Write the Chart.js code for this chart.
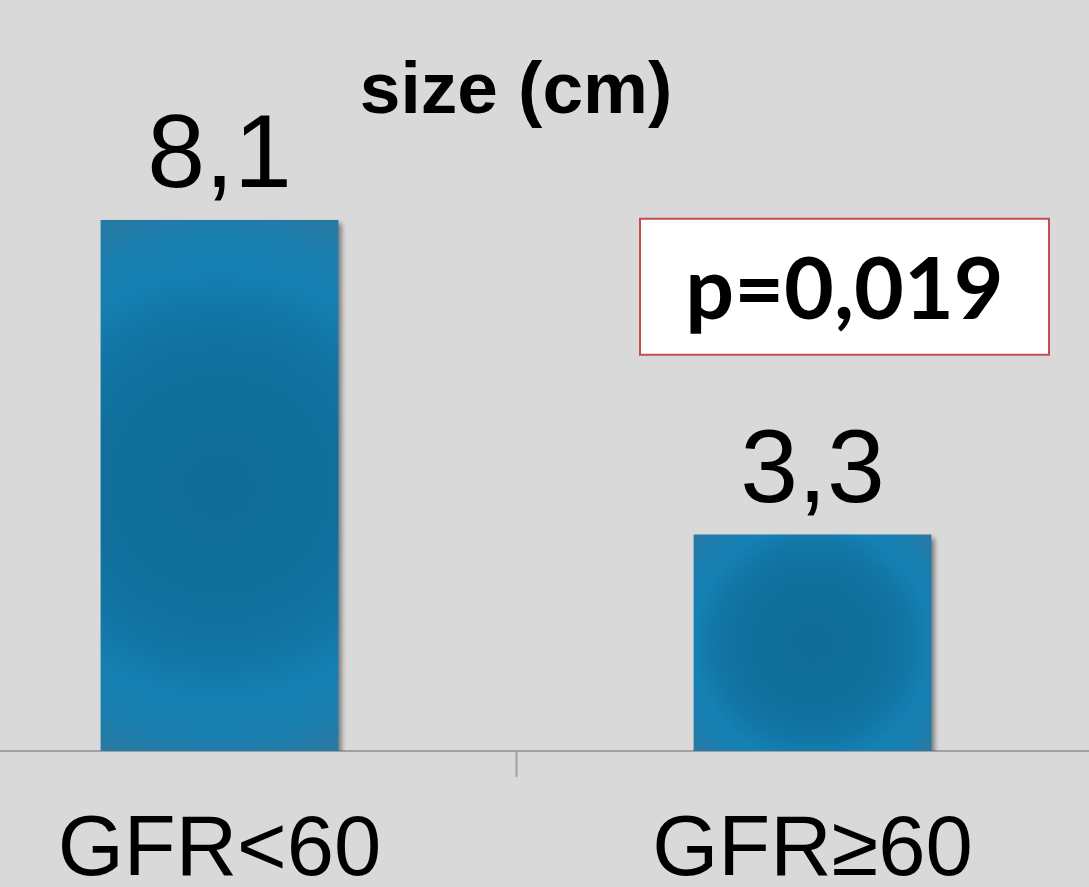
<!DOCTYPE html>
<html>
<head>
<meta charset="utf-8">
<script src="https://cdn.jsdelivr.net/npm/chart.js@4.4.1/dist/chart.umd.min.js"></script>
<style>
  html, body { margin: 0; padding: 0; background: #d9d9d9; overflow: hidden; width: 1089px; height: 887px; }
  #wrap { position: absolute; left: -77px; top: 0; width: 1186px; height: 887px; }
</style>
</head>
<body>
<div id="wrap"><canvas id="c"></canvas></div>
<script>
// ---- data ----
const categories = ['GFR<60', 'GFR\u226560'];
const sizeValues = [8.1, 3.3];
const valueLabels = ['8,1', '3,3'];
const titleText = 'size (cm)';
const pValueText = 'p=0,019';
const pBoxValue = 7.08;   // y value at the centre of the p-value box
const yMax = 9.37;

const BAR_FRAC = 0.401;

function barGradient(context) {
  const chart = context.chart;
  const fallback = '#1580b3';
  if (!chart.chartArea || context.type !== 'data') return fallback;
  const xs = chart.scales.x, ys = chart.scales.y;
  const v = context.raw;
  const cx = xs.getPixelForValue(context.dataIndex);
  const catW = (chart.chartArea.right - chart.chartArea.left) / categories.length;
  const w = catW * BAR_FRAC;
  const top = ys.getPixelForValue(v);
  const base = ys.getPixelForValue(0);
  const cy = (top + base) / 2;
  const r = Math.sqrt((w / 2) * (w / 2) + ((base - top) / 2) * ((base - top) / 2));
  const g = chart.ctx.createRadialGradient(cx, cy, 0, cx, cy, r);
  g.addColorStop(0, '#0f6c99');
  g.addColorStop(0.42, '#106f9c');
  g.addColorStop(0.6, '#1276a6');
  g.addColorStop(0.74, '#1580b3');
  g.addColorStop(0.86, '#1a7fb0');
  g.addColorStop(1.0, '#2a79a0');
  return g;
}

const shadowPlugin = {
  id: 'barShadow',
  beforeDatasetsDraw(chart) {
    const ctx = chart.ctx;
    ctx.save();
    ctx.shadowColor = 'rgba(0,0,0,0.45)';
    ctx.shadowOffsetX = 4;
    ctx.shadowOffsetY = 3;
    ctx.shadowBlur = 5;
  },
  afterDatasetsDraw(chart) {
    chart.ctx.restore();
  }
};

const labelPlugin = {
  id: 'valueLabels',
  afterDatasetsDraw(chart) {
    const ctx = chart.ctx;
    const meta = chart.getDatasetMeta(0);
    ctx.save();
    ctx.fillStyle = '#000';
    ctx.font = '104px "Liberation Sans", Arial, sans-serif';
    ctx.textAlign = 'center';
    ctx.textBaseline = 'alphabetic';
    meta.data.forEach((el, i) => {
      ctx.fillText(valueLabels[i], el.x, el.y - 33);
    });
    ctx.restore();
  }
};

const pBoxPlugin = {
  id: 'pBox',
  afterDraw(chart) {
    const ctx = chart.ctx;
    const xs = chart.scales.x, ys = chart.scales.y;
    const cx = xs.getPixelForValue(1) + 32;
    const cy = ys.getPixelForValue(pBoxValue);
    const w = 409, h = 136;
    ctx.save();
    ctx.fillStyle = '#ffffff';
    ctx.fillRect(cx - w / 2, cy - h / 2, w, h);
    ctx.strokeStyle = '#c0504d';
    ctx.lineWidth = 2;
    ctx.strokeRect(cx - w / 2, cy - h / 2, w, h);
    ctx.fillStyle = '#000';
    ctx.font = 'bold 86px Lato, "Open Sans", sans-serif';
    ctx.textAlign = 'center';
    ctx.textBaseline = 'alphabetic';
    ctx.fillText(pValueText, cx, cy + 32);
    ctx.restore();
  }
};

new Chart(document.getElementById('c'), {
  type: 'bar',
  data: {
    labels: categories,
    datasets: [{
      data: sizeValues,
      backgroundColor: barGradient,
      hoverBackgroundColor: barGradient,
      borderWidth: 0,
      barPercentage: BAR_FRAC,
      categoryPercentage: 1.0
    }]
  },
  options: {
    responsive: true,
    maintainAspectRatio: false,
    animation: false,
    events: [],
    layout: { padding: 0 },
    plugins: {
      legend: { display: false },
      tooltip: { enabled: false },
      title: {
        display: true,
        text: titleText,
        color: '#000',
        font: { family: '"Liberation Sans", Arial, sans-serif', size: 73, weight: 'bold', lineHeight: 1.2 },
        padding: { top: 49, bottom: 0 }
      }
    },
    scales: {
      x: {
        offset: true,
        afterFit(scale) { scale.height = 136; },
        grid: {
          display: true,
          offset: true,
          drawOnChartArea: false,
          drawTicks: true,
          tickLength: 26,
          tickWidth: 2,
          tickColor: '#a0a0a0'
        },
        border: { display: true, color: '#a0a0a0', width: 2 },
        ticks: {
          color: '#000',
          padding: 24,
          autoSkip: false,
          maxRotation: 0,
          minRotation: 0,
          font: { family: '"Liberation Sans", Arial, sans-serif', size: 85, lineHeight: 1.2 }
        }
      },
      y: {
        display: false,
        min: 0,
        max: yMax
      }
    }
  },
  plugins: [shadowPlugin, labelPlugin, pBoxPlugin]
});
</script>
</body>
</html>
